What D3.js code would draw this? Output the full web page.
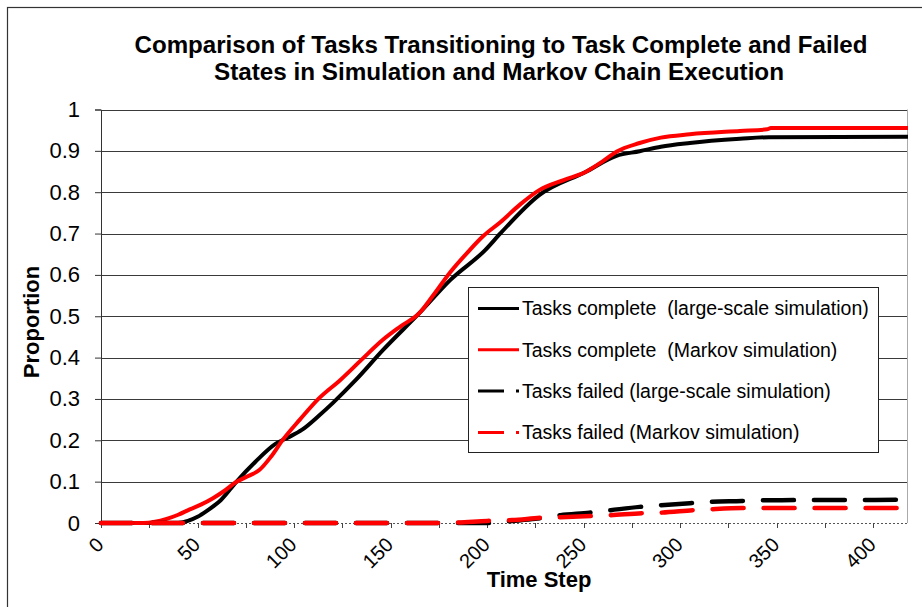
<!DOCTYPE html>
<html>
<head>
<meta charset="utf-8">
<script src="https://cdn.jsdelivr.net/npm/d3@7"></script>
<style>
  body { margin: 0; background: #fff; }
  text { font-family: "Liberation Sans", Arial, sans-serif; }
</style>
</head>
<body>
<div id="chart"></div>
<script>
// tasks complete, large-scale simulation (black solid)
var completeSimT = [0, 40, 45, 50, 55, 62, 70, 80, 90, 97, 104, 113, 120, 132, 146, 165, 181, 199, 207, 227, 251, 267, 279, 290, 305, 331, 346, 418];
var completeSimV = [0, 0, 0.005, 0.015, 0.03, 0.055, 0.099, 0.148, 0.19, 0.207, 0.225, 0.26, 0.29, 0.346, 0.418, 0.508, 0.588, 0.66, 0.701, 0.793, 0.849, 0.888, 0.899, 0.91, 0.919, 0.929, 0.933, 0.934];

// tasks complete, markov simulation (red solid)
var completeMkT = [0, 22, 28, 34, 40, 46, 52, 58, 64, 70, 76, 82, 88, 94, 103, 113, 124, 135, 146, 155, 165, 172, 181, 190, 198, 207, 217, 227, 240, 251, 260, 267, 279, 290, 305, 331, 345, 347, 418];
var completeMkV = [0, 0, 0.003, 0.01, 0.02, 0.033, 0.045, 0.06, 0.078, 0.099, 0.113, 0.128, 0.16, 0.2, 0.25, 0.302, 0.346, 0.395, 0.443, 0.475, 0.508, 0.55, 0.607, 0.655, 0.694, 0.728, 0.77, 0.805, 0.83, 0.849, 0.875, 0.898, 0.919, 0.932, 0.94, 0.948, 0.952, 0.955, 0.955];

// tasks failed, large-scale simulation (black dashed)
var failedSimT = [0, 200, 213, 225, 238, 253, 264, 279, 290, 305, 315, 332, 345, 418];
var failedSimV = [0, 0, 0.005, 0.01, 0.019, 0.025, 0.031, 0.039, 0.043, 0.048, 0.051, 0.053, 0.055, 0.056];

// tasks failed, markov simulation (red dashed)
var failedMkT = [0, 175, 184, 200, 213, 229, 238, 255, 264, 281, 290, 307, 315, 332, 418];
var failedMkV = [0, 0, 0.001, 0.005, 0.007, 0.013, 0.014, 0.017, 0.019, 0.024, 0.025, 0.031, 0.033, 0.036, 0.036];

var seriesNames = ['Tasks complete  (large-scale simulation)', 'Tasks complete  (Markov simulation)', 'Tasks failed (large-scale simulation)', 'Tasks failed (Markov simulation)'];
var yTicks = [0, 0.1, 0.2, 0.3, 0.4, 0.5, 0.6, 0.7, 0.8, 0.9, 1];
var xLabels = [0, 50, 100, 150, 200, 250, 300, 350, 400];
var xTickMarks = d3.range(0, 418, 25);

var width = 922, height = 607;
var margin = {left: 101, right: 15, top: 109.5, bottom: 84};

var svg = d3.select('#chart').append('svg')
	.attr('width', width)
	.attr('height', height);

// outer chart border
svg.append('rect')
	.attr('x', 7.5).attr('y', 7.5)
	.attr('width', 940).attr('height', 640)
	.attr('fill', '#fff').attr('stroke', '#333').attr('stroke-width', 1.2);

var x = d3.scaleLinear().domain([0, 417.5]).range([margin.left, width - margin.right]);
var y = d3.scaleLinear().domain([0, 1]).range([height - margin.bottom, margin.top]);

// title
var title = svg.append('g').attr('font-weight', 'bold').attr('font-size', 23).attr('text-anchor', 'middle');
title.append('text').attr('x', 501).attr('y', 53)
	.attr('textLength', 733).attr('lengthAdjust', 'spacingAndGlyphs')
	.text('Comparison of Tasks Transitioning to Task Complete and Failed');
title.append('text').attr('x', 499).attr('y', 80)
	.attr('textLength', 570).attr('lengthAdjust', 'spacingAndGlyphs')
	.text('States in Simulation and Markov Chain Execution');

// gridlines
svg.append('g').selectAll('line')
	.data(yTicks.filter(function(d){ return d > 0; }))
	.enter().append('line')
	.attr('x1', x(0)).attr('x2', x(417.5))
	.attr('y1', function(d){ return Math.round(y(d)) + 0.5; })
	.attr('y2', function(d){ return Math.round(y(d)) + 0.5; })
	.attr('stroke', '#3a3a3a').attr('stroke-width', 1);

// right border of plot area
svg.append('line')
	.attr('x1', x(417.5) + 0.5).attr('x2', x(417.5) + 0.5)
	.attr('y1', y(1)).attr('y2', y(0))
	.attr('stroke', '#aaa');

// y axis
var yAxis = d3.axisLeft(y).tickValues(yTicks).tickSize(6).tickPadding(15)
	.tickFormat(function(d){ return d === 0 || d === 1 ? d : d3.format('.1f')(d); });
var gy = svg.append('g').attr('transform', 'translate(' + margin.left + ',0)').call(yAxis);
gy.select('.domain').attr('stroke', '#333');
gy.selectAll('.tick line').attr('stroke', '#333');
gy.selectAll('.tick text').attr('font-size', 22).attr('fill', '#000')
	.attr('font-family', '"Liberation Sans", Arial, sans-serif');

// x axis line (dotted) and tick marks
svg.append('line')
	.attr('x1', x(0)).attr('x2', x(417.5))
	.attr('y1', y(0) + 0.5).attr('y2', y(0) + 0.5)
	.attr('stroke', '#555').attr('stroke-dasharray', '2,2');
svg.append('g').selectAll('line')
	.data(xTickMarks).enter().append('line')
	.attr('x1', function(d){ return Math.round(x(d)) + 0.5; })
	.attr('x2', function(d){ return Math.round(x(d)) + 0.5; })
	.attr('y1', y(0)).attr('y2', y(0) + 5)
	.attr('stroke', '#444');

svg.append('g').selectAll('text')
	.data(xLabels).enter().append('text')
	.attr('transform', function(d){ return 'translate(' + (x(d) - 6) + ',' + (y(0) + 13) + ') rotate(-45)'; })
	.attr('text-anchor', 'end')
	.attr('dy', '0.7em')
	.attr('font-size', 20)
	.text(function(d){ return d; });

// axis titles
svg.append('text')
	.attr('x', 539).attr('y', 587)
	.attr('text-anchor', 'middle').attr('font-weight', 'bold').attr('font-size', 22)
	.text('Time Step');
svg.append('text')
	.attr('transform', 'translate(39,322) rotate(-90)')
	.attr('text-anchor', 'middle').attr('font-weight', 'bold').attr('font-size', 22)
	.text('Proportion');

// series
var line = d3.line()
	.x(function(d){ return x(d[0]); })
	.y(function(d){ return y(d[1]); })
	.curve(d3.curveMonotoneX);

var series = [
	{t: completeSimT, v: completeSimV, color: '#000', dash: null},
	{t: completeMkT, v: completeMkV, color: '#ff0000', dash: null},
	{t: failedSimT, v: failedSimV, color: '#000', dash: '31,20'},
	{t: failedMkT, v: failedMkV, color: '#ff0000', dash: '31,20'}
];

series.forEach(function(s){
	var pts = s.t.map(function(t, i){ return [t, s.v[i]]; });
	svg.append('path')
		.datum(pts)
		.attr('d', line)
		.attr('fill', 'none')
		.attr('stroke', s.color)
		.attr('stroke-width', s.dash ? 4.5 : 4)
		.attr('stroke-linecap', s.dash ? 'round' : 'butt')
		.attr('stroke-linejoin', 'round')
		.attr('stroke-dasharray', s.dash);
});

// legend
var legend = svg.append('g');
legend.append('rect')
	.attr('x', 468.5).attr('y', 287.5)
	.attr('width', 410).attr('height', 165)
	.attr('fill', '#fff').attr('stroke', '#222');

var rows = legend.selectAll('.row')
	.data(series).enter().append('g')
	.attr('class', 'row')
	.attr('transform', function(d, i){ return 'translate(0,' + (308.5 + i * 41.3) + ')'; });

rows.append('line')
	.attr('x1', 478).attr('x2', 519)
	.attr('stroke', function(d){ return d.color; })
	.attr('stroke-width', 3)
	.attr('stroke-dasharray', function(d){ return d.dash ? '26,12' : null; });

rows.append('text')
	.attr('x', 522).attr('dy', '0.35em')
	.attr('font-size', 19.5)
	.style('white-space', 'pre')
	.text(function(d, i){ return seriesNames[i]; });
</script>
</body>
</html>
